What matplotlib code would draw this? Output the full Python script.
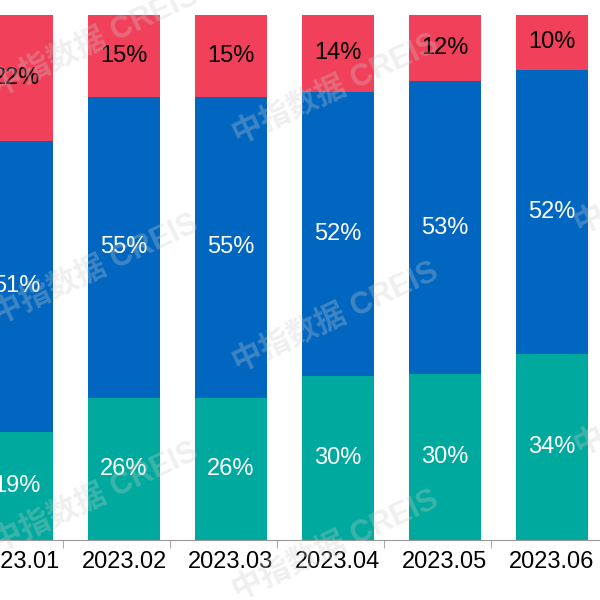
import matplotlib
matplotlib.use("Agg")
import matplotlib.pyplot as plt
import numpy as np

plt.rcParams['font.family'] = ['Liberation Sans', 'Noto Sans CJK SC', 'DejaVu Sans']

months = ["2023.01", "2023.02", "2023.03", "2023.04", "2023.05", "2023.06"]
green = [19, 26, 26, 30, 30, 34]
blue = [51, 55, 55, 52, 53, 52]
red = [22, 15, 15, 14, 12, 10]

g = np.array(green, float); b = np.array(blue, float); r = np.array(red, float)
tot = g + b + r
gn, bn, rn = g / tot * 100, b / tot * 100, r / tot * 100

fig = plt.figure(figsize=(6, 6), dpi=100)
ax = fig.add_axes([0, 0.1, 1, 0.875])
x = np.arange(len(months))
w = 0.67
cols = ["#00A99D", "#0066C0", "#F0405A"]
ax.bar(x, gn, w, color=cols[0])
ax.bar(x, bn, w, bottom=gn, color=cols[1])
ax.bar(x, rn, w, bottom=gn + bn, color=cols[2])
for i in range(len(months)):
    ax.text(x[i], gn[i] / 2, f"{green[i]}%", ha='center', va='center', color='white', fontsize=17)
    ax.text(x[i], gn[i] + bn[i] / 2, f"{blue[i]}%", ha='center', va='center', color='white', fontsize=17)
    ax.text(x[i], gn[i] + bn[i] + rn[i] / 2, f"{red[i]}%", ha='center', va='center', color='black', fontsize=17)

ax.set_xlim(-0.159, 5.449)
ax.set_ylim(0, 100)
for s in ['top', 'right', 'left']:
    ax.spines[s].set_visible(False)
ax.spines['bottom'].set_color('#999999')
ax.set_yticks([])
ax.set_xticks(x)
ax.set_xticklabels(months, fontsize=17)
ax.tick_params(axis='x', length=0, pad=8)
ax.set_xticks(x[:-1] + 0.43, minor=True)
ax.tick_params(axis='x', which='minor', length=6, color='#999999')

wm = [(-0.02, 0.93), (0.38, 0.85), (0.95, 0.7), (-0.02, 0.55), (0.38, 0.47), (0.95, 0.33), (-0.02, 0.17), (0.38, 0.09)]
for (fx, fy) in wm:
    fig.text(fx, fy, "中指数据 CREIS", fontsize=22, color='#cccccc', alpha=0.3,
             rotation=25, ha='left', va='center', fontweight='bold')

fig.savefig("out.png", dpi=100)
